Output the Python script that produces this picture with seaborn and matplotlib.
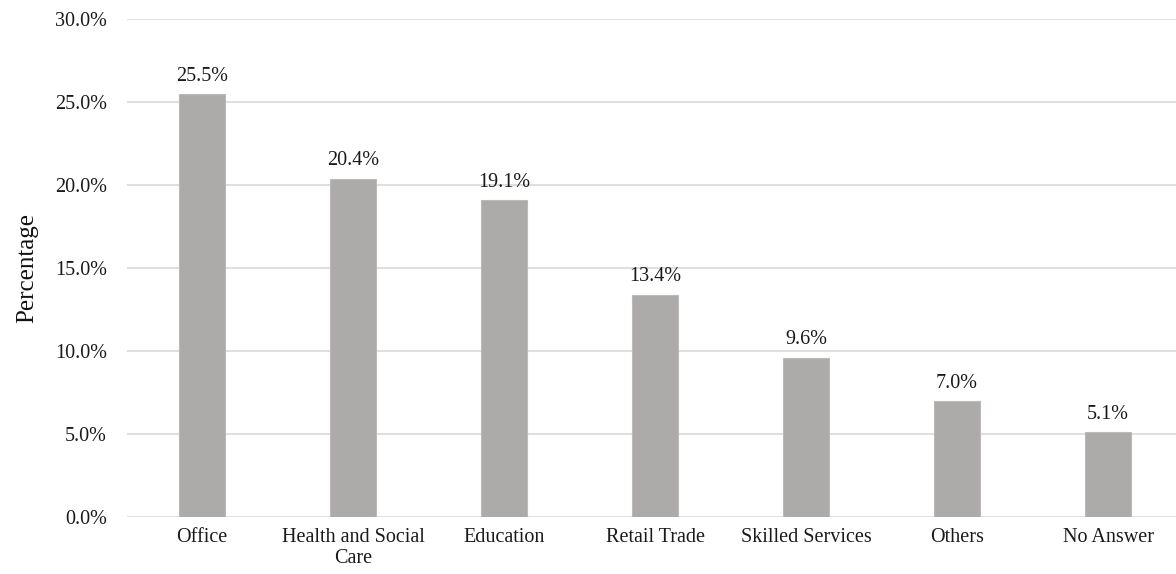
import matplotlib
matplotlib.use("Agg")
import matplotlib.pyplot as plt
import seaborn as sns
import pandas as pd
from matplotlib.ticker import FuncFormatter

categories = ['Office', 'Health and Social\nCare', 'Education', 'Retail Trade',
              'Skilled Services', 'Others', 'No Answer']
percentages = [25.5, 20.4, 19.1, 13.4, 9.6, 7.0, 5.1]

df = pd.DataFrame({'sector': categories, 'pct': percentages})

sns.set_theme(style='white')
plt.rcParams['font.family'] = ['Liberation Serif', 'DejaVu Serif']

fig = plt.figure(figsize=(11.76, 5.74), dpi=100)
ax = fig.add_axes([0.1076, 0.0993, 0.8988, 0.8671])

sns.barplot(data=df, x='sector', y='pct', color='#adaaa9', width=0.31,
            edgecolor='#bcb9b8', linewidth=0.8, ax=ax, zorder=3)

ax.set_ylim(0, 30)
ax.set_yticks([0, 5, 10, 15, 20, 25, 30])
ax.yaxis.set_major_formatter(FuncFormatter(lambda v, _: f'{v:.1f}%'))
ax.grid(axis='y', color='#dcdcdc', linewidth=1.3, zorder=0)
ax.grid(axis='x', visible=False)
for s in ax.spines.values():
    s.set_visible(False)

ax.tick_params(axis='both', length=0, labelsize=14.5, colors='#1a1a1a')
ax.tick_params(axis='y', pad=14)
ax.tick_params(axis='x', pad=8)
for lbl in ax.get_xticklabels():
    lbl.set_linespacing(1.15)

ax.bar_label(ax.containers[0], labels=[f'{v:.1f}%' for v in percentages],
             padding=6, fontsize=14.5, color='#1a1a1a')

ax.set_xlabel('')
ax.set_ylabel('Percentage', fontsize=18, color='#111111', labelpad=12)

fig.savefig('out.png', dpi=100)
